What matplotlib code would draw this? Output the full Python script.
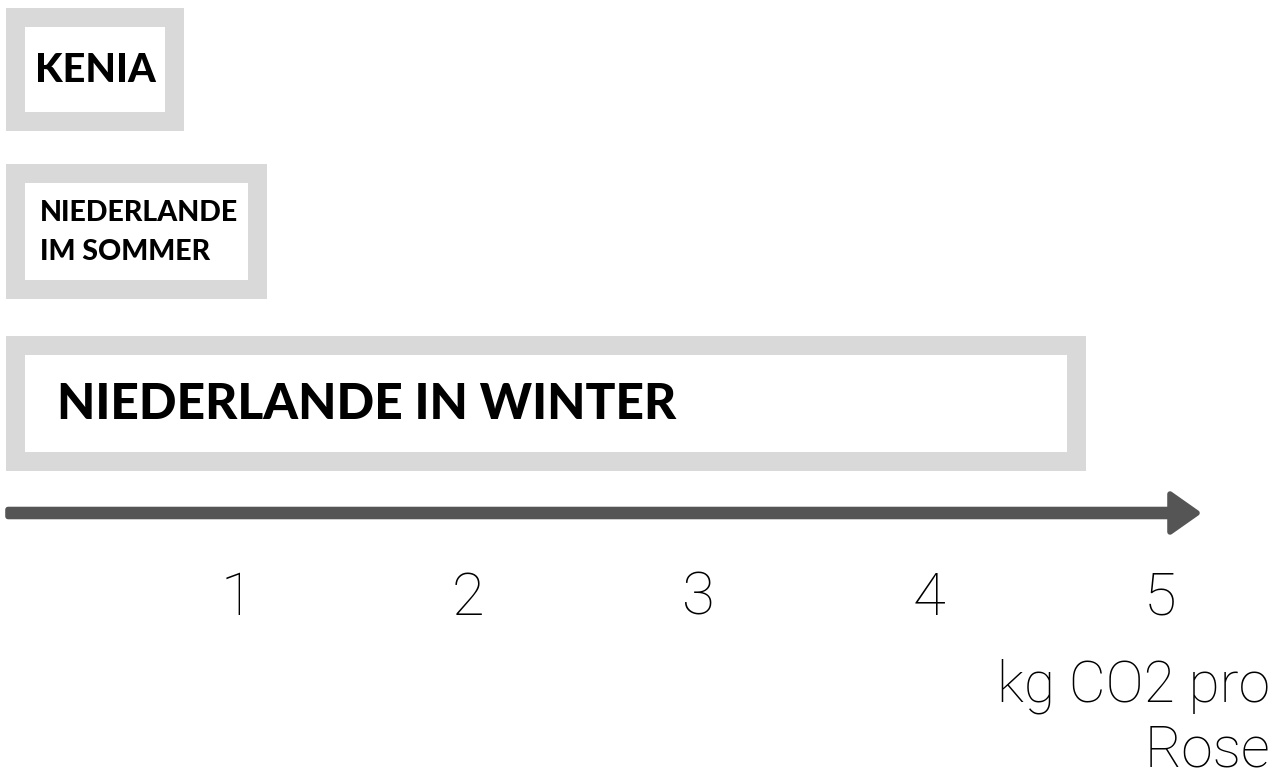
import numpy as np
import matplotlib.pyplot as plt
from matplotlib.patches import FancyArrow

# data
regions = ["KENIA", "NIEDERLANDE\nIM SOMMER", "NIEDERLANDE IN WINTER"]
co2 = [0.77, 1.13, 4.68]          # kg CO2 pro Rose
ticks = [1, 2, 3, 4, 5]
tick_labels = ["1", "2", "3", "4", "5"]
unit_label = "kg CO2 pro\nRose"

# layout (pixels, figure is 1288x780 at 100 dpi)
W, H = 1288, 780
px_per_unit = 230.75
x0_px = 6.25
axis_y = 513.5
centers = [69.5, 231.5, 403.5]
heights = [123, 135, 135]
label_sizes = [28.5, 20.5, 35.7]
label_off = [29, 34, 51]
border = 19
GRAY = "#d9d9d9"
DARK = "#555555"
THIN = dict(family="Roboto", fontweight="light")

fig = plt.figure(figsize=(W / 100, H / 100), dpi=100)
ax = fig.add_axes([0, 1 - axis_y / H, 1, axis_y / H])
ax.set_xlim(-x0_px / px_per_unit, (W - x0_px) / px_per_unit)
ax.set_ylim(axis_y, 0)
bx = border / px_per_unit

for name, val, yc, h, fs, off in zip(regions, co2, centers, heights, label_sizes, label_off):
    ax.barh(yc, val, height=h, left=0, color=GRAY)
    ax.barh(yc, val - 2 * bx, height=h - 2 * border, left=bx, color="white")
    ax.annotate(name, (0, yc + 1), xytext=(off * 0.72, 0), textcoords="offset points",
                ha="left", va="center", fontsize=fs, family="Lato", fontweight="black",
                linespacing=1.65)

# axis arrow
tip = (1197 - x0_px) / px_per_unit
start = (8 - x0_px) / px_per_unit
arr = FancyArrow(start, axis_y - 0.5, tip - start, 0, width=7, head_width=38,
                 head_length=27 / px_per_unit, length_includes_head=True,
                 color=DARK, lw=4, joinstyle="round", capstyle="round", clip_on=False)
ax.add_patch(arr)

for s in ax.spines.values():
    s.set_visible(False)
ax.set_yticks([])
ax.set_xticks(ticks)
ax.set_xticklabels(tick_labels, fontsize=43, **THIN)
ax.tick_params(axis="x", length=0, pad=41)
ax.set_xlabel(unit_label, fontsize=41, ha="right", multialignment="right",
              linespacing=1.2, **THIN)
ax.xaxis.set_label_coords(1 - 18 / W, (axis_y - 659) / axis_y)

fig.savefig("out.png", dpi=100)
